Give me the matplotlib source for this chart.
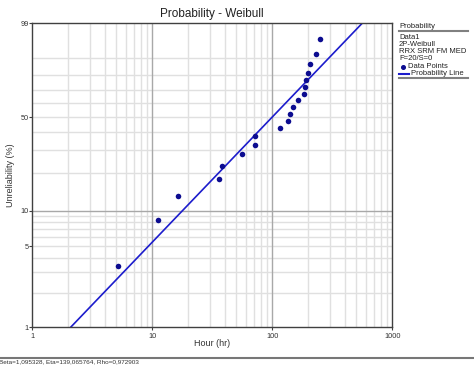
import numpy as np
import matplotlib
matplotlib.use('Agg')
import matplotlib.pyplot as plt
from matplotlib.lines import Line2D

plt.rcParams['font.family'] = ['Liberation Sans', 'DejaVu Sans']

# data
hours = [5.18, 11.2, 16.5, 35.7, 38.1, 55.6, 71.3, 71.3, 116, 135,
         140, 150, 165, 185, 187, 190, 198, 206, 232, 249]
unreliability = [3.43, 8.33, 13.24, 18.14, 23.04, 27.94, 32.84, 37.75, 42.65, 47.55,
                 52.45, 57.35, 62.25, 67.16, 72.06, 76.96, 81.86, 86.76, 91.67, 96.57]
beta = 1.095328
eta = 139.065764
rho = 0.972903

y_ticks = [1, 5, 10, 50, 99]
y_grid = [2, 3, 4, 5, 6, 7, 8, 9, 20, 30, 40, 50, 60, 70, 80, 90]
x_ticks = [1, 10, 100, 1000]
x_grid = [2, 3, 4, 5, 6, 7, 8, 9, 20, 30, 40, 50, 60, 70, 80, 90,
          200, 300, 400, 500, 600, 700, 800, 900]

legend_lines = ['Data1', '2P-Weibull', 'RRX SRM FM MED', 'F=20/S=0']

LINE_C = '#1c1ccc'
DOT_C = '#0c0c90'
W, H = 474, 365


def px(x, y):
    return x / W, 1 - y / H


def weib_fwd(p):
    p = np.clip(np.asarray(p, dtype=float), 1e-6, 100 - 1e-6) / 100
    return np.log(-np.log(1 - p))


def weib_inv(y):
    return 100 * (1 - np.exp(-np.exp(np.asarray(y, dtype=float))))


fig = plt.figure(figsize=(W / 100, H / 100), dpi=100)
ax = fig.add_axes([32.3 / W, 1 - 327.3 / H, 360 / W, 304 / H])

ax.set_xscale('log')
ax.set_yscale('function', functions=(weib_fwd, weib_inv))
ax.set_xlim(1, 1000)
ax.set_ylim(1, 99)

# grid
for v in y_grid:
    ax.axhline(v, color='#e0e0e0', lw=1, zorder=0)
for v in x_grid:
    ax.axvline(v, color='#e0e0e0', lw=1, zorder=0)
ax.axhline(10, color='#a8a8a8', lw=1, zorder=0.5)
ax.axvline(10, color='#a8a8a8', lw=1, zorder=0.5)
ax.axvline(100, color='#a8a8a8', lw=1, zorder=0.5)

# probability line from fitted parameters
F_line = np.array([1.0, 99.0])
t_line = eta * (-np.log(1 - F_line / 100)) ** (1 / beta)
ax.plot(t_line, F_line, color=LINE_C, lw=1.2, zorder=2)
ax.scatter(hours, unreliability, s=16, color=DOT_C, zorder=3, linewidths=0)

ax.set_xticks(x_ticks)
ax.set_xticklabels([str(v) for v in x_ticks])
ax.set_yticks(y_ticks)
ax.set_yticklabels([str(v) for v in y_ticks])
ax.xaxis.set_minor_locator(matplotlib.ticker.NullLocator())
ax.yaxis.set_minor_locator(matplotlib.ticker.NullLocator())
ax.tick_params(axis='both', labelsize=5.3, length=2, width=0.8, color='#404040',
               labelcolor='#333333')
ax.tick_params(axis='y', pad=0.8)
ax.tick_params(axis='x', pad=1.8)
for s in ax.spines.values():
    s.set_color('#404040')
    s.set_linewidth(1)

fig.text(*px(212.3, 17.3), 'Probability - Weibull', ha='center', va='baseline',
         fontsize=8.5, color='#222222')
fig.text(*px(212.3, 344), 'Hour (hr)', ha='center', va='center',
         fontsize=6.5, color='#333333')
fig.text(*px(10.7, 175.5), 'Unreliability (%)', ha='center', va='center',
         rotation=90, fontsize=6.5, color='#333333')

# legend panel
lx = 399
fs = 5.5
fig.text(*px(lx, 26.7), 'Probability', ha='left', va='center', fontsize=fs, color='#222222')
fig.add_artist(Line2D([lx / W, 468 / W], [1 - 31 / H, 1 - 31 / H], color='#808080', lw=1.5))
for i, t in enumerate(legend_lines):
    fig.text(*px(lx, 37.7 + i * 7), t, ha='left', va='center', fontsize=fs, color='#222222')
fig.add_artist(Line2D([403 / W], [1 - 66.5 / H], marker='o', markersize=2.6,
                      color=DOT_C, linestyle='none'))
fig.text(*px(407.5, 66.3), 'Data Points', ha='left', va='center', fontsize=fs, color='#222222')
fig.add_artist(Line2D([399 / W, 409 / W], [1 - 74 / H, 1 - 74 / H], color=LINE_C, lw=1.5))
fig.text(*px(411, 73.5), 'Probability Line', ha='left', va='center', fontsize=fs, color='#222222')
fig.add_artist(Line2D([lx / W, 468 / W], [1 - 78.3 / H, 1 - 78.3 / H], color='#808080', lw=1.5))

# status bar
fig.add_artist(Line2D([0, 1], [1 - 358 / H, 1 - 358 / H], color='#777777', lw=1.5))
status = 'Beta=%s, Eta=%s, Rho=%s' % (f'{beta:.6f}'.replace('.', ','),
                                      f'{eta:.6f}'.replace('.', ','),
                                      f'{rho:.6f}'.replace('.', ','))
fig.text(-0.002, 1 - 361.5 / H, status, ha='left', va='center', fontsize=4.6, color='#333333')

fig.savefig('out.png', dpi=100)
